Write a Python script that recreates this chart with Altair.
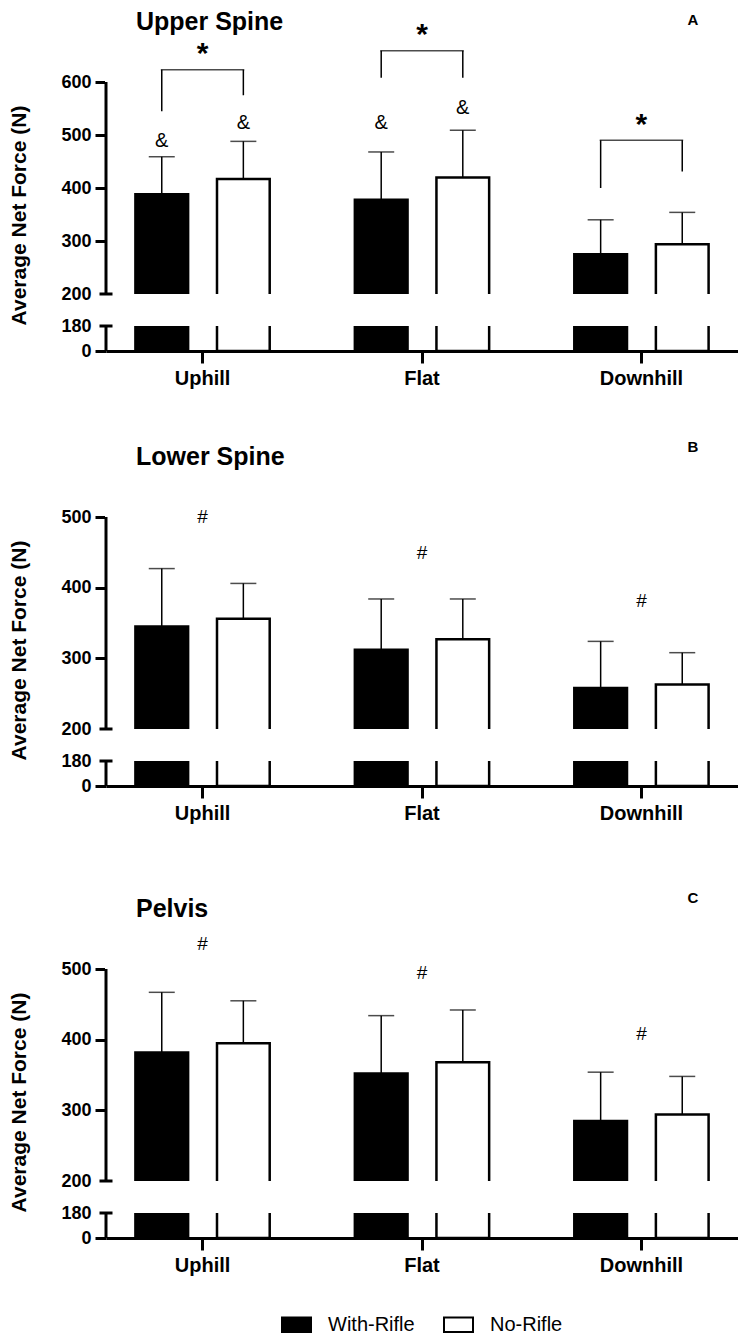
import altair as alt
import pandas as pd

FONT = "Liberation Sans"

# ---------------- data ----------------
categories = ["Uphill", "Flat", "Downhill"]
series = ["With-Rifle", "No-Rifle"]
y_title = "Average Net Force (N)"

titles = ["Upper Spine", "Lower Spine", "Pelvis"]
letters = ["A", "B", "C"]
tick_values_a = [0, 180, 200, 300, 400, 500, 600]
tick_values_bc = [0, 180, 200, 300, 400, 500]
break_low = 180
break_high = 200

upper_with_mean = [388, 378, 275]
upper_with_sd = [71, 90, 65]
upper_no_mean = [417, 420, 294]
upper_no_sd = [71, 89, 60]

lower_with_mean = [345, 312, 258]
lower_with_sd = [82, 72, 66]
lower_no_mean = [356, 327, 263]
lower_no_sd = [50, 57, 45]

pelvis_with_mean = [382, 352, 285]
pelvis_with_sd = [85, 82, 69]
pelvis_no_mean = [395, 368, 294]
pelvis_no_sd = [60, 74, 54]

# annotations (upper spine)
amp_cat = ["Uphill", "Uphill", "Flat", "Flat"]
amp_series = ["With-Rifle", "No-Rifle", "With-Rifle", "No-Rifle"]
amp_y = [489, 523, 523, 551]
star_y = [657, 693, 523]
bracket_top = [623, 659, 490]
bracket_left_end = [545, 608, 400]
bracket_right_end = [575, 608, 431]
# annotations (lower spine, pelvis)
lower_hash_y = [494, 443, 375]
pelvis_hash_y = [530, 488, 402]

# ---------------- layout ----------------
W = 632
H = 343

xscale = alt.Scale(domain=categories, paddingInner=0.388, paddingOuter=0.134)
xoscale = alt.Scale(domain=series, paddingInner=0.354, paddingOuter=0)
xaxis = alt.Axis(title=None, domain=True, domainWidth=3, domainColor="black",
                 ticks=True, tickSize=12, tickWidth=3, tickColor="black", grid=False,
                 labelFont=FONT, labelFontSize=20, labelFontWeight="bold",
                 labelColor="black", labelPadding=5, labelAngle=0)

fill_scale = alt.Scale(domain=series, range=["black", "white"])
stroke_scale = alt.Scale(domain=series, range=["black", "black"])
legend = alt.Legend(orient="none", legendX=175, legendY=1301, direction="horizontal",
                    title=None, symbolType="M-1,-0.5H1V0.5H-1Z", symbolSize=841,
                    symbolStrokeWidth=2, labelFont=FONT, labelFontSize=20,
                    labelColor="black", labelOffset=16, columnPadding=25, padding=0)

no_border = alt.ViewBackground(stroke="transparent", strokeWidth=0, strokeOpacity=0)


def bar_frame(wm, ws, nm, ns):
    rows = []
    for i, c in enumerate(categories):
        rows.append({"cat": c, "series": series[0], "mean": wm[i], "sd": ws[i]})
        rows.append({"cat": c, "series": series[1], "mean": nm[i], "sd": ns[i]})
    return pd.DataFrame(rows)


def panel(title, letter, letter_y, top_tick, tick_values, df, kind, hash_y=None, off=0):
    h = H + off
    y_range = [h, h - 25, h - 57, 74 + off]
    yscale = alt.Scale(domain=[0, break_low, break_high, top_tick], range=y_range, nice=False)
    yaxis = alt.Axis(values=tick_values, title=y_title, domain=False, grid=False,
                     tickSize=11, tickWidth=3, tickColor="black",
                     tickOpacity={"condition": {"test": "datum.value == 180 || datum.value == 200", "value": 0}, "value": 1},
                     labelFont=FONT, labelFontSize=18, labelFontWeight="bold", labelColor="black",
                     labelPadding=4, labelOverlap=False, format="d",
                     titleFont=FONT, titleFontSize=21, titleFontWeight="bold", titleColor="black",
                     titleX=-77, titleY=207 + off)

    def Y(field):
        return alt.Y(field, type="quantitative", scale=yscale, axis=yaxis)

    X = alt.X("cat:N", scale=xscale, axis=xaxis)
    XO = alt.XOffset("series:N", scale=xoscale)

    bars = alt.Chart(df).mark_bar(strokeWidth=2.5).encode(
        x=X, xOffset=XO, y=Y("mean"), y2=alt.datum(0),
        fill=alt.Fill("series:N", scale=fill_scale, legend=legend),
        stroke=alt.Stroke("series:N", scale=stroke_scale, legend=legend),
    )
    mask = alt.Chart(pd.DataFrame({"lo": [break_low], "hi": [break_high]})).mark_rect(
        color="white").encode(x=alt.value(-1), x2=alt.value(W), y=Y("lo"), y2=alt.Y2("hi"))
    edge_cover = alt.Chart(pd.DataFrame({"t": [0]})).mark_rect(color="white").encode(
        x=alt.value(-1), x2=alt.value(3), y=alt.value(0), y2=alt.value(h - 2))
    err = alt.Chart(df).transform_calculate(top="datum.mean + datum.sd").mark_rule(
        strokeWidth=1.5, color="black").encode(x=X, xOffset=XO, y=Y("mean"), y2=alt.Y2("top:Q"))
    caps = alt.Chart(df).transform_calculate(top="datum.mean + datum.sd").mark_tick(
        size=26, thickness=1.5, color="black").encode(x=X, xOffset=XO, y=Y("top"))
    axis_line = alt.Chart(pd.DataFrame({"y0": [0, break_high], "y1": [break_low, top_tick]})).mark_rule(
        strokeWidth=3, color="black").encode(x=alt.value(0), y=Y("y0"), y2=alt.Y2("y1"))
    break_caps = alt.Chart(pd.DataFrame({"y": [break_low, break_high]})).mark_rule(
        strokeWidth=3, color="black").encode(x=alt.value(-6.5), x2=alt.value(6.5), y=Y("y"))
    title_t = alt.Chart(pd.DataFrame({"t": [title]})).mark_text(
        align="left", baseline="top", font=FONT, fontSize=25, fontWeight="bold", color="black"
    ).encode(x=alt.value(30), y=alt.value(2 + off), text="t:N")
    letter_t = alt.Chart(pd.DataFrame({"t": [letter]})).mark_text(
        align="center", baseline="middle", font=FONT, fontSize=15, fontWeight="bold", color="black"
    ).encode(x=alt.value(587), y=alt.value(letter_y + off), text="t:N")

    layers = [bars, mask, err, caps, edge_cover, axis_line, break_caps, title_t, letter_t]

    if kind == "upper":
        amp = alt.Chart(pd.DataFrame({"cat": amp_cat, "series": amp_series, "y": amp_y, "t": ["&"] * 4})).mark_text(
            font=FONT, fontSize=20, color="black", baseline="middle").encode(
            x=X, xOffset=XO, y=Y("y"), text="t:N")
        star = alt.Chart(pd.DataFrame({"cat": categories, "y": star_y, "t": ["*"] * 3})).mark_text(
            font=FONT, fontSize=30, fontWeight="bold", color="black", baseline="middle", dy=2).encode(
            x=X, y=Y("y"), text="t:N")
        leg_rows = []
        for i, c in enumerate(categories):
            leg_rows.append({"cat": c, "series": series[0], "lo": bracket_left_end[i], "hi": bracket_top[i]})
            leg_rows.append({"cat": c, "series": series[1], "lo": bracket_right_end[i], "hi": bracket_top[i]})
        legs = alt.Chart(pd.DataFrame(leg_rows)).mark_rule(strokeWidth=1.5, color="black").encode(
            x=X, xOffset=XO, y=Y("lo"), y2=alt.Y2("hi"))
        horiz = alt.Chart(pd.DataFrame({"cat": categories, "top": bracket_top})).mark_tick(
            size=83.5, thickness=1.5, color="black").encode(x=X, y=Y("top"))
        layers += [legs, horiz, amp, star]
    else:
        hashes = alt.Chart(pd.DataFrame({"cat": categories, "y": hash_y, "t": ["#"] * 3})).mark_text(
            font=FONT, fontSize=19, color="black", baseline="middle", dy=-4).encode(
            x=X, y=Y("y"), text="t:N")
        layers += [hashes]

    return alt.layer(*layers).properties(width=W, height=h, view=no_border)


pA = panel(titles[0], letters[0], 12, 600, tick_values_a,
           bar_frame(upper_with_mean, upper_with_sd, upper_no_mean, upper_no_sd), "upper")
pB = panel(titles[1], letters[1], 4, 500, tick_values_bc,
           bar_frame(lower_with_mean, lower_with_sd, lower_no_mean, lower_no_sd), "hash", lower_hash_y)
pC = panel(titles[2], letters[2], 3, 500, tick_values_bc,
           bar_frame(pelvis_with_mean, pelvis_with_sd, pelvis_no_mean, pelvis_no_sd), "hash", pelvis_hash_y,
           off=17)

chart = alt.vconcat(pA, pB, pC, spacing=92, bounds="flush").properties(padding=0).configure_view(
    stroke="transparent", strokeWidth=0, strokeOpacity=0).configure_axis(grid=False).configure(font=FONT)

chart.save("out.html", embed_options={"renderer": "svg", "actions": False})
